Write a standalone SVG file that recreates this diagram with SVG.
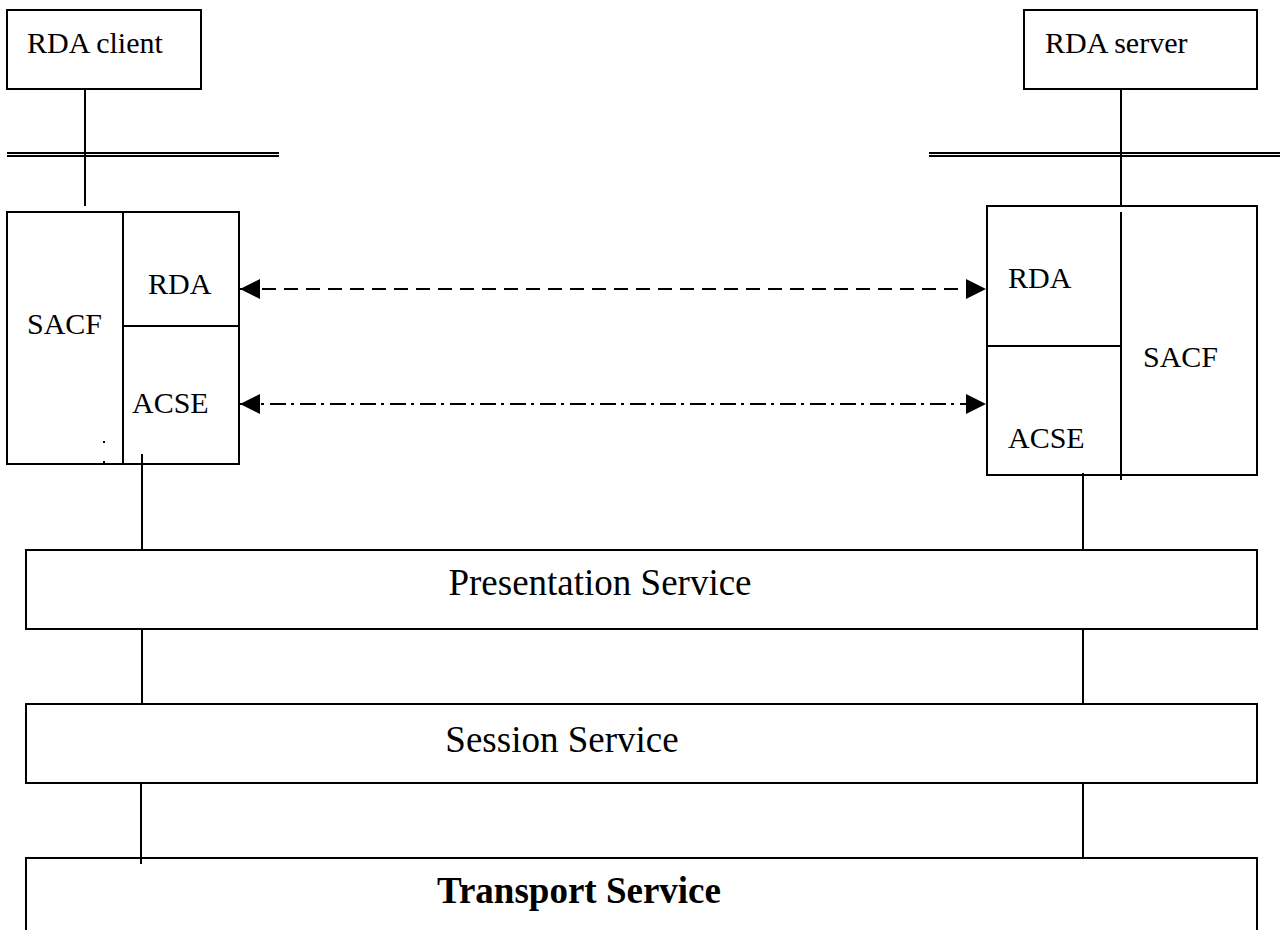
<svg xmlns="http://www.w3.org/2000/svg" width="1280" height="930" viewBox="0 0 1280 930">
<style>
.box{fill:none;stroke:#000;stroke-width:2}
.ln{stroke:#000;stroke-width:2;fill:none}
.t{font-family:"Liberation Serif","Times New Roman",serif;font-size:30px;fill:#000}
.big{font-family:"Liberation Serif","Times New Roman",serif;font-size:37px;fill:#000}
</style>
<defs>
<marker id="ah" viewBox="0 0 20 20" refX="20" refY="10" markerWidth="20" markerHeight="20" markerUnits="userSpaceOnUse" orient="auto-start-reverse">
<path d="M0,0 L20,10 L0,20 Z" fill="#000"/>
</marker>
</defs>
<rect width="1280" height="930" fill="#fff"/>
<g id="rda-client">
<rect class="box" x="7" y="10" width="194" height="79"/>
<text class="t" x="27" y="53">RDA client</text>
</g>
<g id="rda-server">
<rect class="box" x="1024" y="10" width="233" height="79"/>
<text class="t" x="1045" y="53">RDA server</text>
</g>
<g id="boundary-left">
<line class="ln" x1="7" y1="153" x2="279" y2="153"/>
<line class="ln" x1="7" y1="156" x2="279" y2="156"/>
</g>
<g id="boundary-right">
<line class="ln" x1="929" y1="153" x2="1280" y2="153"/>
<line class="ln" x1="929" y1="156" x2="1280" y2="156"/>
</g>
<g id="client-stack">
<rect class="box" x="7" y="212" width="232" height="252"/>
<line class="ln" x1="123" y1="212" x2="123" y2="464"/>
<line class="ln" x1="123" y1="326" x2="239" y2="326"/>
<text class="t" x="27" y="334">SACF</text>
<text class="t" x="148" y="294">RDA</text>
<text class="t" x="132" y="413">ACSE</text>
<rect x="103" y="441" width="2" height="2" fill="#000"/>
<rect x="103" y="461" width="2" height="2" fill="#000"/>
</g>
<g id="server-stack">
<rect class="box" x="987" y="206" width="270" height="269"/>
<line class="ln" x1="1121" y1="212" x2="1121" y2="480"/>
<line class="ln" x1="987" y1="346" x2="1121" y2="346"/>
<text class="t" x="1008" y="288">RDA</text>
<text class="t" x="1008" y="448">ACSE</text>
<text class="t" x="1143" y="367">SACF</text>
</g>
<g id="presentation">
<rect class="box" x="26" y="550" width="1231" height="79"/>
<text class="big" x="600" y="595" text-anchor="middle">Presentation Service</text>
</g>
<g id="session">
<rect class="box" x="26" y="704" width="1231" height="79"/>
<text class="big" x="562" y="752" text-anchor="middle">Session Service</text>
</g>
<g id="transport">
<path class="box" d="M26,940 L26,858 L1257,858 L1257,940"/>
<text class="big" x="579" y="903" text-anchor="middle" font-weight="bold" font-size="38">Transport Service</text>
</g>
<g id="connectors">
<line class="ln" x1="85" y1="89" x2="85" y2="206"/>
<line class="ln" x1="1121" y1="89" x2="1121" y2="206"/>
<line class="ln" x1="142" y1="454" x2="142" y2="550"/>
<line class="ln" x1="142" y1="628" x2="142" y2="704"/>
<line class="ln" x1="141" y1="782" x2="141" y2="864"/>
<line class="ln" x1="1083" y1="473" x2="1083" y2="550"/>
<line class="ln" x1="1083" y1="628" x2="1083" y2="704"/>
<line class="ln" x1="1083" y1="782" x2="1083" y2="858"/>
<line class="ln" x1="240" y1="289" x2="986" y2="289" stroke-dasharray="14 8" marker-start="url(#ah)" marker-end="url(#ah)"/>
<line class="ln" x1="240" y1="404" x2="986" y2="404" stroke-dasharray="16 5 3 6" marker-start="url(#ah)" marker-end="url(#ah)"/>
</g>
</svg>
